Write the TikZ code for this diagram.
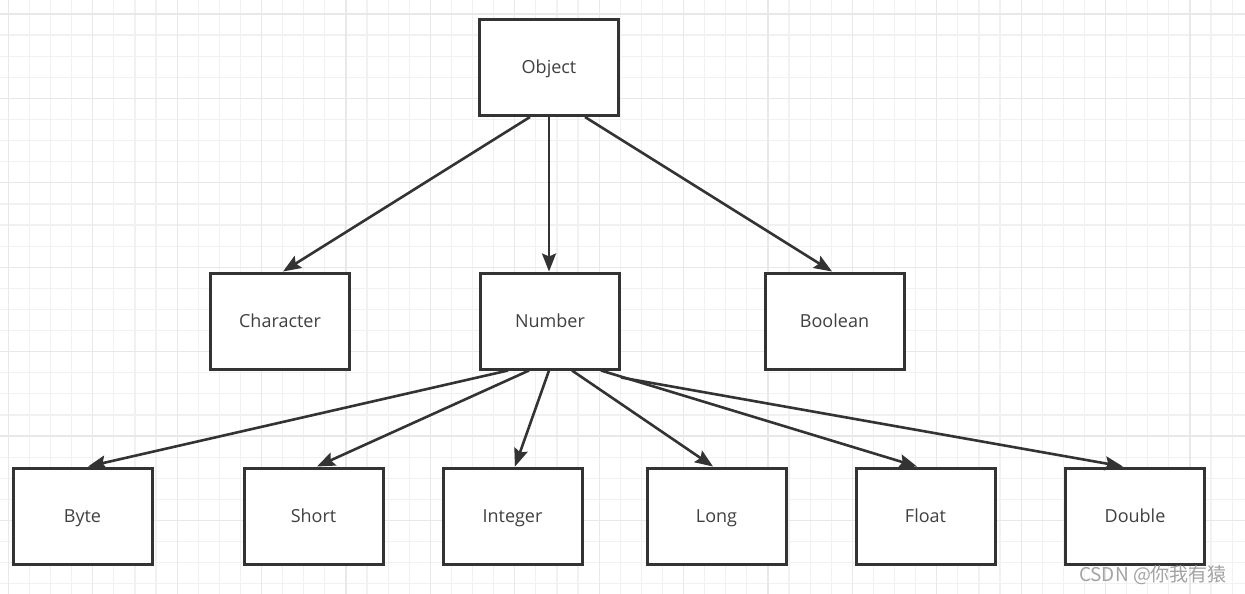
\documentclass[tikz,border=0pt]{standalone}
\usepackage{fontspec}
\setmainfont{Open Sans}
\newfontfamily\cjkfont{Noto Sans CJK SC}
\usetikzlibrary{arrows.meta}
\definecolor{boxline}{HTML}{333333}
\definecolor{txt}{HTML}{404040}
\definecolor{gridminor}{HTML}{F1F1F1}
\definecolor{gridmajor}{HTML}{E8E8E8}
\definecolor{wm}{HTML}{A3A3A3}
\begin{document}
\begin{tikzpicture}[x=1pt,y=-1pt,
  cls/.style={draw=boxline, line width=3pt, fill=white, minimum width=139pt, minimum height=96pt, inner sep=0pt, text=txt, text height=14pt, text depth=1pt, font=\fontsize{18}{20}\selectfont},
  link/.style={draw=boxline, line width=2.6pt, -{Stealth[length=18pt,width=14pt,inset=3pt]}}]
\useasboundingbox (0,0) rectangle (1245,594);
\fill[white] (0,0) rectangle (1245,594);
% grid
\foreach \i in {0,...,58}{
  \draw[gridminor, line width=1.2pt] ({8.3+21.1*\i},0) -- ({8.3+21.1*\i},594);
}
\foreach \j in {0,...,27}{
  \draw[gridminor, line width=1.2pt] (0,{14+21.1*\j}) -- (1245,{14+21.1*\j});
}
\foreach \i in {0,...,14}{
  \draw[gridmajor, line width=1.2pt] ({8.3+84.4*\i},0) -- ({8.3+84.4*\i},594);
}
\foreach \j in {0,...,6}{
  \draw[gridmajor, line width=1.2pt] (0,{14+84.4*\j}) -- (1245,{14+84.4*\j});
}
% nodes
\node[cls] (obj) at (549,67.5) {Object};
\node[cls] (chr) at (280,321) {Character};
\node[cls] (num) at (550,321) {Number};
\node[cls] (bool) at (834.5,321) {Boolean};
\node[cls] (byte) at (82.5,516) {Byte};
\node[cls] (short) at (313.5,516) {Short};
\node[cls] (int) at (512.5,516) {Integer};
\node[cls] (long) at (716.5,516) {Long};
\node[cls] (float) at (925.5,516) {Float};
\node[cls] (dbl) at (1135,516) {Double};
% connectors
\draw[link] ([xshift=-19pt]obj.south) -- ([xshift=3pt]chr.north);
\draw[link] (obj.south) -- ([xshift=-1pt]num.north);
\draw[link] ([xshift=36pt]obj.south) -- ([xshift=-2.5pt]bool.north);
\draw[link] ([xshift=-42pt]num.south) -- ([xshift=5.5pt]byte.north);
\draw[link] ([xshift=-21pt]num.south) -- ([xshift=3.5pt]short.north);
\draw[link] ([xshift=-1pt]num.south) -- ([xshift=2.5pt]int.north);
\draw[link] ([xshift=22pt]num.south) -- ([xshift=-3.5pt]long.north);
\draw[link] ([xshift=51pt]num.south) -- ([xshift=-8.5pt]float.north);
\draw[link] ([yshift=-7pt]num.south east) -- ([xshift=-12pt]dbl.north);
% watermark
\node[text=wm, font=\cjkfont\fontsize{19}{21}\selectfont, inner sep=0pt] (wmk) at (1153,575) {CSDN @你我有猿};
\end{tikzpicture}
\end{document}
